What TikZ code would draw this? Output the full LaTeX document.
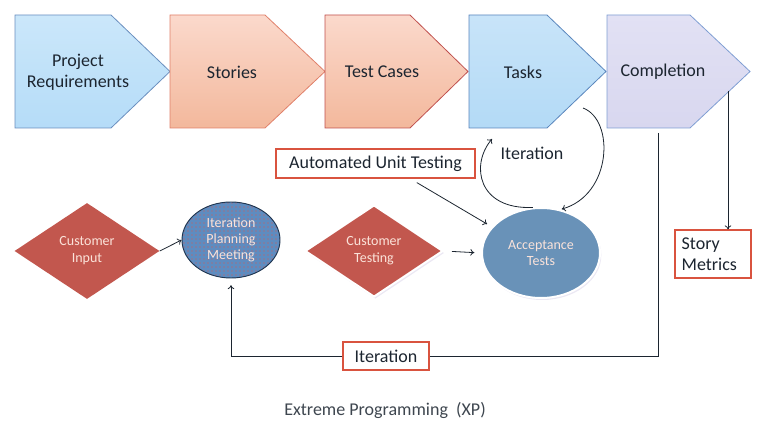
\documentclass[tikz,border=0pt]{standalone}
\usepackage{fontspec}
\setmainfont{Carlito}
\usepackage{tikz}
\usetikzlibrary{positioning,arrows.meta,shapes.geometric,patterns,shadows}
\definecolor{ink}{HTML}{1C2530}
\definecolor{reqtop}{HTML}{CBE7FA}
\definecolor{reqbot}{HTML}{B5DCF8}
\definecolor{reqline}{HTML}{6A8FBF}
\definecolor{storytop}{HTML}{FBD9CC}
\definecolor{storybot}{HTML}{F3B89C}
\definecolor{storyline}{HTML}{E0806A}
\definecolor{caseline}{HTML}{C0504D}
\definecolor{tasktop}{HTML}{C8E4F9}
\definecolor{taskbot}{HTML}{B3DAF6}
\definecolor{taskline}{HTML}{5A86BD}
\definecolor{comptop}{HTML}{E2E1F4}
\definecolor{compbot}{HTML}{D8D7EF}
\definecolor{compline}{HTML}{7F9ED3}
\definecolor{dred}{HTML}{C2574E}
\definecolor{dtext}{HTML}{FBE3DA}
\definecolor{ipmblue}{HTML}{5E8CC0}
\definecolor{ipmdot}{HTML}{E0564A}
\definecolor{ipmline}{HTML}{1F3550}
\definecolor{atblue}{HTML}{6992B8}
\definecolor{boxred}{HTML}{D9533F}
\definecolor{shade}{HTML}{D8D2E8}
\tikzset{
  stage/.style={line width=0.6pt},
  bluestage/.style={stage, draw=reqline, top color=reqtop, bottom color=reqbot},
  redstage/.style={stage, draw=storyline, top color=storytop, bottom color=storybot},
  taskstage/.style={stage, draw=taskline, top color=tasktop, bottom color=taskbot},
  compstage/.style={stage, draw=compline, top color=comptop, bottom color=compbot},
  decision/.style={diamond, fill=dred, inner sep=0pt, text=dtext, align=center,
    font=\fontsize{10.5}{12.75}\selectfont},
  meeting/.style={ellipse, inner sep=0pt, text=dtext, align=center,
    font=\fontsize{10.5}{12}\selectfont},
  tagbox/.style={draw=boxred, fill=white, line width=0.9pt, inner sep=0pt, text=ink,
    font=\fontsize{13.5}{16}\selectfont},
  lbl/.style={text=ink, align=center, font=\fontsize{13.5}{16}\selectfont},
  arrow/.style={draw=ink, line width=0.6pt, -{To[length=3pt,width=5pt]}},
  line/.style={draw=ink, line width=0.6pt}
}
\begin{document}
\begin{tikzpicture}[x=0.75pt,y=-0.75pt]
  \useasboundingbox (0,0) rectangle (761,423);

  % top row of stages
  \path[bluestage] (15,15) -- (111,15) -- (170,71.5) -- (111,128) -- (15,128) -- cycle;
  \path[redstage] (170,15) -- (265,15) -- (325,71.5) -- (265,128) -- (170,128) -- cycle;
  \path[redstage, draw=caseline] (325,15) -- (410,15) -- (468,71.5) -- (410,128) -- (325,128) -- cycle;
  \path[taskstage] (469,15) -- (547,15) -- (606,71.5) -- (547,128) -- (469,128) -- cycle;
  \path[compstage] (607,15) -- (690,15) -- (750,71.5) -- (690,128) -- (607,128) -- cycle;
  \node[lbl] (req) at (78,72) {Project\\Requirements};
  \node[lbl] (stories) at (232,72) {Stories};
  \node[lbl] (cases) at (382,72) {Test Cases};
  \node[lbl] (tasks) at (523,72) {Tasks};
  \node[lbl] (done) at (663,72) {Completion};

  % lower row
  \node[decision, minimum width=108.75pt, minimum height=72pt] (cinput) at (87,251) {Customer\\Input};
  \node[meeting, draw=ipmline, line width=0.7pt, preaction={fill=ipmblue},
    pattern=dots, pattern color=ipmdot,
    minimum width=73.5pt, minimum height=57pt] (ipm) at (231,240) {Iteration\\Planning\\Meeting};
  \node[decision, draw=white, line width=1.5pt, drop shadow={fill=shade, shadow xshift=1pt, shadow yshift=-1.5pt},
    minimum width=103.5pt, minimum height=69pt] (ctest) at (374,251) {Customer\\Testing};
  \node[meeting, fill=atblue, draw=white, line width=1.5pt, drop shadow={fill=shade, shadow xshift=1pt, shadow yshift=-1.5pt},
    minimum width=88.5pt, minimum height=67.5pt] (acc) at (541,253) {Acceptance\\Tests};

  \node[tagbox, minimum width=149.25pt, minimum height=21.75pt] (aut) at (375.5,163.5) {Automated Unit Testing};
  \node[tagbox, minimum width=64.5pt, minimum height=21pt] (iterbox) at (386,356) {Iteration};
  \node[tagbox, minimum width=57pt, minimum height=36pt, align=left, text width=47pt,
    inner xsep=5pt] (metrics) at (713,254) {Story\\Metrics};
  \node[lbl] (iterlbl) at (532,153) {Iteration};
  \node[lbl, text=ink!85] (title) at (385,410) {Extreme Programming~~(XP)};

  % free ends
  \coordinate (loopin) at (492,139);
  \coordinate (loopout) at (583,108);
  \coordinate (compdown) at (658,133);
  \coordinate (compright) at (728,91);

  % connectors
  \draw[arrow] (cinput.east) -- (ipm.west);
  \draw[arrow, shorten <=6pt, shorten >=5pt] (ctest.east) -- (acc.west);
  \draw[arrow, shorten >=4pt] ([xshift=31pt,yshift=-3pt]aut.south) -- (acc.152);
  \draw[arrow] (acc.100) .. controls (478,210) and (470,165) .. (loopin);
  \draw[arrow, shorten >=1pt] (loopout) .. controls (615,120) and (612,195) .. (acc.66);
  \draw[line] (compdown) |- (iterbox.east);
  \draw[arrow, shorten >=5pt] (iterbox.west) -| (ipm.south);
  \draw[arrow] (compright) -- (compright |- metrics.north);
\end{tikzpicture}
\end{document}
